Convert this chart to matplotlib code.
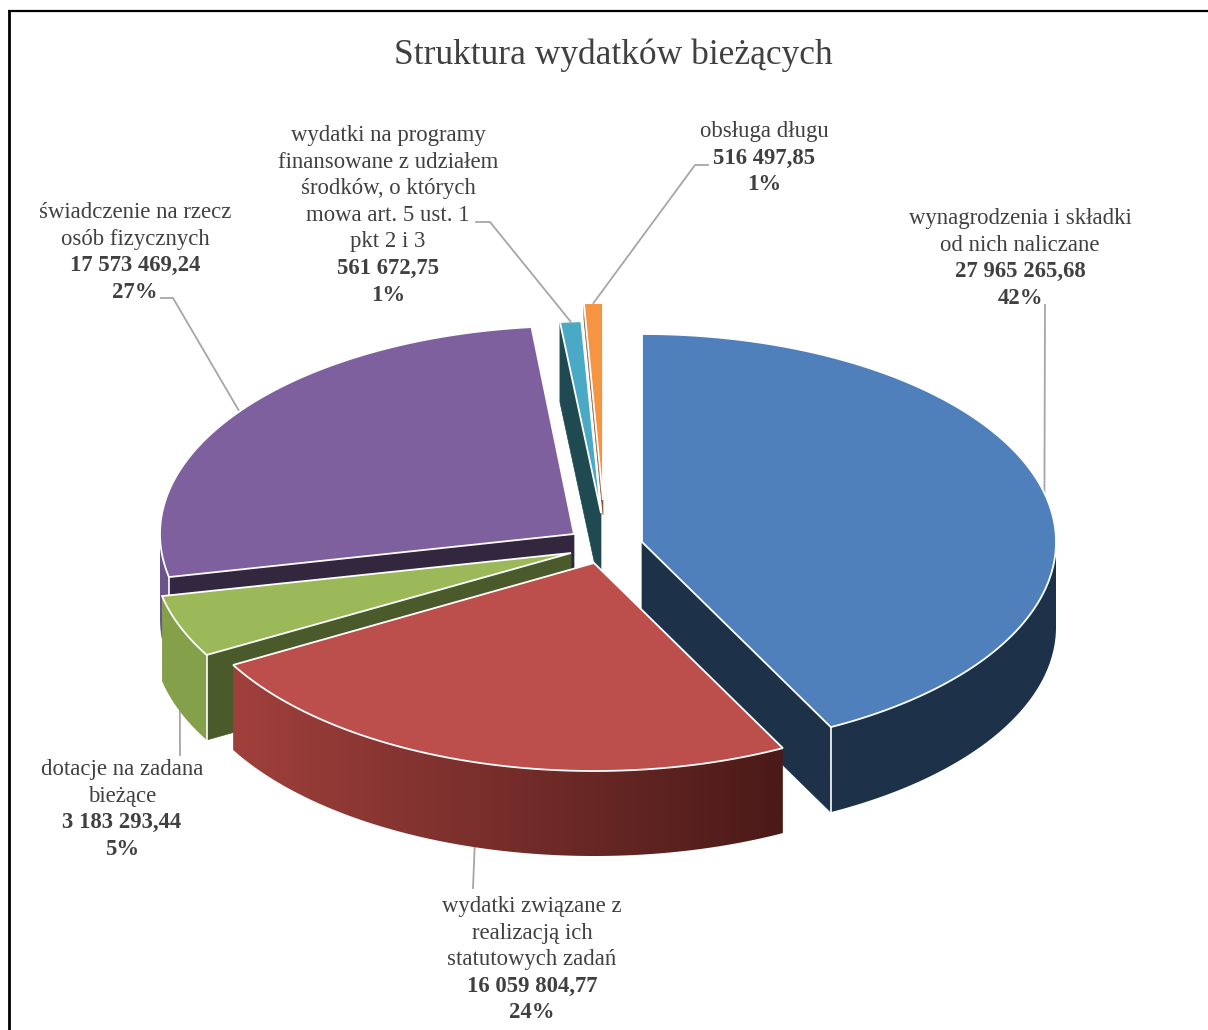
import matplotlib
matplotlib.use('Agg')
import matplotlib.pyplot as plt
import numpy as np
from matplotlib.colors import to_rgb
from matplotlib.patches import Polygon

plt.rcParams['font.family'] = ['Liberation Serif', 'DejaVu Serif']

# data, clockwise from the top of the pie
categories = ['wynagrodzenia', 'statutowe', 'dotacje', 'swiadczenia', 'programy', 'dlug']
values = [27965265.68, 16059804.77, 3183293.44, 17573469.24, 561672.75, 516497.85]
value_labels = ['27 965 265,68', '16 059 804,77', '3 183 293,44', '17 573 469,24', '561 672,75', '516 497,85']
percent_labels = ['42%', '24%', '5%', '27%', '1%', '1%']
label_lines = [
    ['wynagrodzenia i składki', 'od nich naliczane'],
    ['wydatki związane z', 'realizacją ich', 'statutowych zadań'],
    ['dotacje na zadana', 'bieżące'],
    ['świadczenie na rzecz', 'osób fizycznych'],
    ['wydatki na programy', 'finansowane z udziałem', 'środków, o których', 'mowa art. 5 ust. 1', 'pkt 2 i 3'],
    ['obsługa długu'],
]

# look of each slice: apex in pixels, radii, colours
apex = [(642, 542), (594, 563), (571, 553), (574, 534), (601, 513), (603, 500)]
radii = [(414, 208), (414, 208), (418, 208), (414, 208), (400, 192), (388, 197)]
depths = [85, 85, 85, 85, 80, 15]
top_colors = ['#4f80bb', '#bc4f4b', '#9bb958', '#7f609e', '#4aa9c4', '#f59542']
cut_colors = ['#1d3149', '#4a1a18', '#4a5a2a', '#33273f', '#1f4a52', '#8a5a3a']
wall_left = ['#1d3149', '#a0403c', '#85a04a', '#6c5489', '#1f4a52', '#8a5a3a']
wall_right = ['#1d3149', '#4a1a18', '#85a04a', '#6c5489', '#1f4a52', '#8a5a3a']
draw_order = [5, 4, 3, 0, 2, 1]

# text layout
label_x = [1020, 532, 122, 135, 388, 764]
label_y = [218, 906, 769, 212, 135, 131]
line_step = 26.6
leader_from = [(1045, 305), (473, 888), (180, 755), (161, 298), None, None]
leader_knee = [None, None, None, (173, 298), (476, 222), (708, 165)]
leader_knee2 = [None, None, None, None, (490, 222), (695, 165)]

fig = plt.figure(figsize=(12.08, 10.30), dpi=100)
ax = fig.add_axes([0, 0, 1, 1])

# frame of the page
ax.plot([9, 9], [1030, 11], color='black', lw=2, solid_capstyle='butt', zorder=1)
ax.plot([8, 1208], [11, 11], color='black', lw=1.6, solid_capstyle='butt', zorder=1)

total = sum(values)
angles = np.concatenate([[0], np.cumsum(values) / total * 360])


def rim(i, t):
    t = np.radians(t)
    return apex[i][0] + radii[i][0] * np.sin(t), apex[i][1] - radii[i][1] * np.cos(t)


z = 5
for i in draw_order:
    t1, t2 = angles[i], angles[i + 1]
    ax_, ay_ = apex[i]
    d = depths[i]
    ts = np.linspace(t1, t2, 200)
    xs, ys = rim(i, ts)

    # cut faces that look towards the viewer
    corners = []
    if np.sin(np.radians(t1)) < -1e-6:
        corners.append(t1)
    if np.sin(np.radians(t2)) > 1e-6:
        corners.append(t2)
    for t in corners:
        x0, y0 = rim(i, t)
        ax.add_patch(Polygon([(ax_, ay_), (x0, y0), (x0, y0 + d), (ax_, ay_ + d)], fc=cut_colors[i],
                             ec=cut_colors[i], lw=0.5, zorder=z))

    # outer wall, only the part that faces the viewer, shaded left to right
    lo, hi = max(t1, 90), min(t2, 270)
    if hi > lo:
        wt = np.linspace(lo, hi, 160)
        wx, wy = rim(i, wt)
        outline = list(zip(wx, wy)) + list(zip(wx[::-1], wy[::-1] + d))
        clip = Polygon(outline, closed=True, fc='none', ec='none', transform=ax.transData)
        ax.add_patch(clip)
        c0 = np.array(to_rgb(wall_left[i]))
        c1 = np.array(to_rgb(wall_right[i]))
        grad = np.linspace(0, 1, 256)[None, :, None]
        im = ax.imshow(c0 + (c1 - c0) * grad, extent=(wx.min(), wx.max(), wy.max() + d, wy.min()),
                       aspect='auto', zorder=z, interpolation='bilinear')
        im.set_clip_path(clip)
        # white line where the wall meets a cut face
        for t in corners:
            if lo <= t <= hi:
                cx_, cy_ = rim(i, t)
                ax.plot([cx_, cx_], [cy_, cy_ + d], color='white', lw=1.2, zorder=z + 0.1)

    # top face
    pts = [(ax_, ay_)] + list(zip(xs, ys))
    ax.add_patch(Polygon(pts, closed=True, fc=top_colors[i], ec='white', lw=1.3, joinstyle='miter', zorder=z + 0.2))
    z += 1

ax.text(613, 55, 'Struktura wydatków bieżących', ha='center', va='center', fontsize=25.5, color='#404040')

# labels
for i in range(len(categories)):
    y = label_y[i]
    for ln in label_lines[i]:
        ax.text(label_x[i], y + 6, ln, ha='center', va='baseline', fontsize=16.4, color='#404040')
        y += line_step
    ax.text(label_x[i], y + 6, value_labels[i], ha='center', va='baseline', fontsize=16.4, color='#404040', weight='bold')
    y += line_step
    ax.text(label_x[i], y + 6, percent_labels[i], ha='center', va='baseline', fontsize=16.4, color='#404040', weight='bold')

    # leader line to the middle of the slice
    mid = (angles[i] + angles[i + 1]) / 2
    ex, ey = rim(i, mid)
    if 90 < mid < 270:
        ey += depths[i]
    path = []
    if leader_from[i] is not None:
        path.append(leader_from[i])
    if leader_knee[i] is not None:
        path.append(leader_knee[i])
    if leader_knee2[i] is not None:
        path.append(leader_knee2[i])
    path.append((ex, ey))
    ax.plot([p[0] for p in path], [p[1] for p in path], color='#a6a6a6', lw=1.3, zorder=20 if i > 3 else 3)

ax.set_xlim(0, 1208)
ax.set_ylim(1030, 0)
ax.axis('off')

fig.savefig('out.png', dpi=100)
